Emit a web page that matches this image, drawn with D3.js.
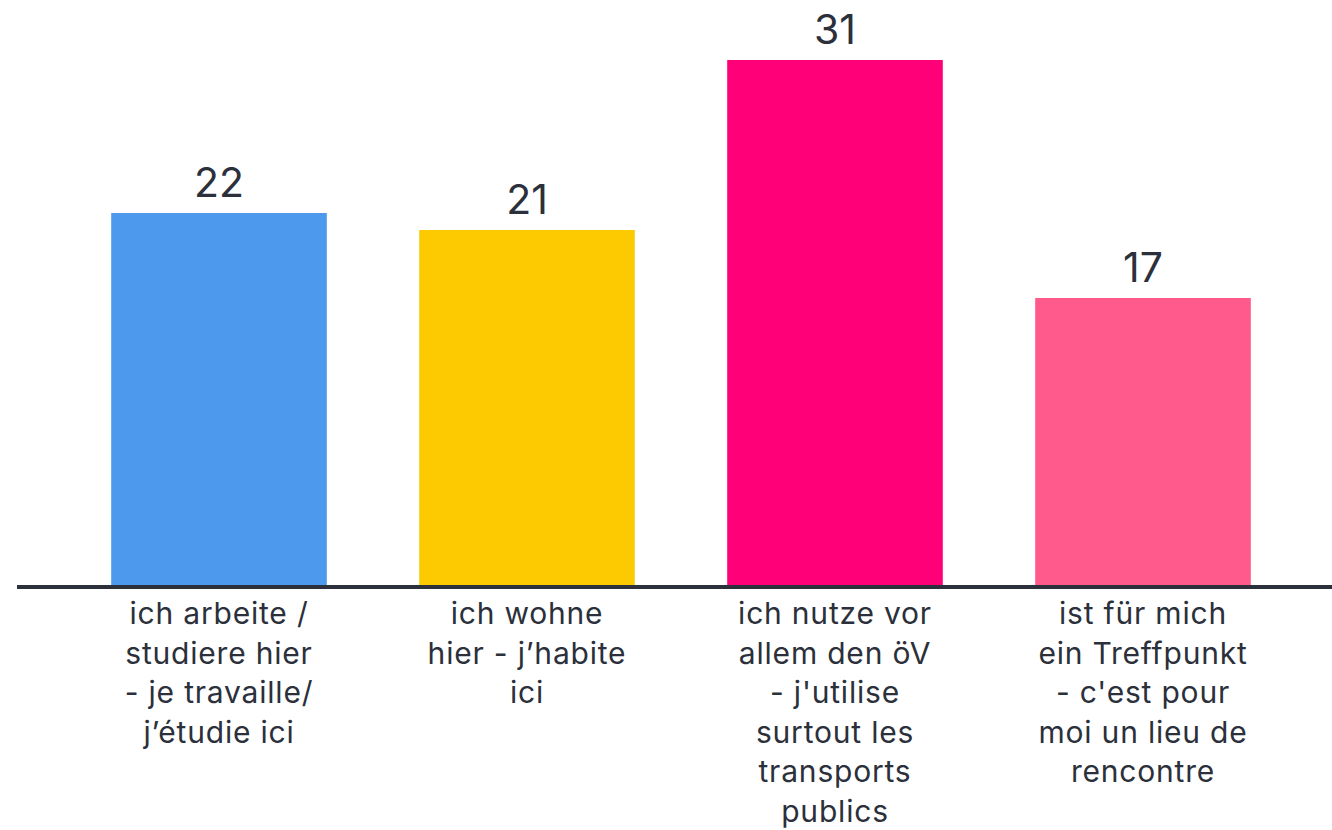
<!DOCTYPE html>
<html>
<head>
<meta charset="utf-8">
<script src="https://cdn.jsdelivr.net/npm/d3@7"></script>
<style>
  body { margin: 0; background: #fff; }
  svg { display: block; font-family: Inter, "Open Sans", sans-serif; }
</style>
</head>
<body>
<div id="chart"></div>
<script>
var categories = ["arbeite", "wohne", "oev", "treffpunkt"];
var values = [22, 21, 31, 17];
var labels = [
  ["ich arbeite /", "studiere hier", "- je travaille/", "j\u2019\u00e9tudie ici"],
  ["ich wohne", "hier - j\u2019habite", "ici"],
  ["ich nutze vor", "allem den \u00f6V", "- j'utilise", "surtout les", "transports", "publics"],
  ["ist f\u00fcr mich", "ein Treffpunkt", "- c'est pour", "moi un lieu de", "rencontre"]
];
var colors = ["#4c99ee", "#fdc900", "#ff0078", "#ff5a8b"];

function init() {
  var w = 1332;
  var h = 830;
  var baseY = 587;

  var xScale = d3.scaleBand()
    .domain(categories)
    .range([65, 1297])
    .paddingInner(0.3)
    .paddingOuter(0.15);

  var yScale = d3.scaleLinear()
    .domain([0, 31])
    .range([baseY, 60]);

  var svg = d3.select("#chart")
    .append("svg")
    .attr("width", w)
    .attr("height", h);

  svg.selectAll("rect.bar")
    .data(values)
    .enter()
    .append("rect")
    .attr("class", "bar")
    .attr("x", function(d, i) { return xScale(categories[i]); })
    .attr("y", function(d) { return yScale(d); })
    .attr("width", xScale.bandwidth())
    .attr("height", function(d) { return baseY - yScale(d); })
    .attr("fill", function(d, i) { return colors[i]; });

  svg.selectAll("text.value")
    .data(values)
    .enter()
    .append("text")
    .attr("class", "value")
    .attr("x", function(d, i) { return xScale(categories[i]) + xScale.bandwidth() / 2; })
    .attr("y", function(d) { return yScale(d) - 16; })
    .attr("text-anchor", "middle")
    .attr("font-size", 41)
    .attr("fill", "#2b303b")
    .text(function(d) { return d; });

  // baseline
  svg.append("line")
    .attr("x1", 17)
    .attr("x2", w)
    .attr("y1", baseY)
    .attr("y2", baseY)
    .attr("stroke", "#2b303b")
    .attr("stroke-width", 4);

  var lab = svg.selectAll("text.cat")
    .data(labels)
    .enter()
    .append("text")
    .attr("class", "cat")
    .attr("text-anchor", "middle")
    .attr("font-size", 30)
    .attr("letter-spacing", 0.8)
    .attr("fill", "#2b303b")
    .attr("transform", function(d, i) {
      return "translate(" + (xScale(categories[i]) + xScale.bandwidth() / 2) + ",624)";
    });

  lab.selectAll("tspan")
    .data(function(d) { return d; })
    .enter()
    .append("tspan")
    .attr("x", 0)
    .attr("y", function(d, i) { return i * 39.5; })
    .text(function(d) { return d; });
}

window.onload = init;
</script>
</body>
</html>
